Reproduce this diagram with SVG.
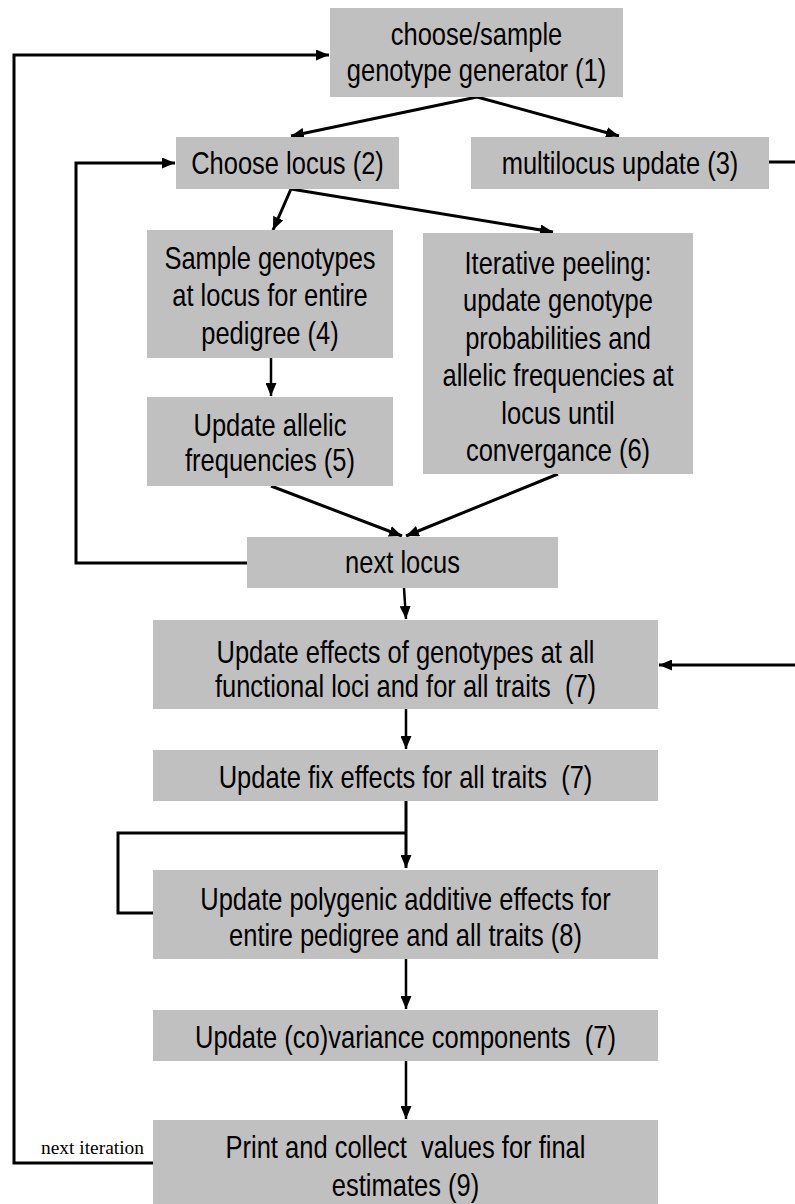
<svg xmlns="http://www.w3.org/2000/svg" width="795" height="1204" viewBox="0 0 795 1204">
<style>
.box{fill:#C0C0C0;}
.t{font-family:"Liberation Sans",Arial,sans-serif;font-size:25.5px;fill:#000;text-anchor:middle;}
.c{fill:none;stroke:#000;stroke-width:3;stroke-linejoin:miter;}
.v{fill:none;stroke:#000;stroke-width:2.5;}
.lbl{font-family:"Liberation Serif","Times New Roman",serif;font-size:18px;fill:#000;}
</style>
<defs>
<marker id="ah" markerUnits="userSpaceOnUse" markerWidth="14" markerHeight="11" refX="13" refY="5.5" orient="auto">
<path d="M0,0 L13,5.5 L0,11 z" fill="#000"/>
</marker>
</defs>
<rect width="795" height="1204" fill="#fff"/>

<g id="connectors">
<path class="c" d="M477,97 L291,136" marker-end="url(#ah)"/>
<path class="c" d="M477,97 L619,136" marker-end="url(#ah)"/>
<path class="c" d="M291,189 L273,230" marker-end="url(#ah)"/>
<path class="c" d="M291,189 L553,232" marker-end="url(#ah)"/>
<path class="v" d="M271,358 L271,396" marker-end="url(#ah)"/>
<path class="c" d="M271,486 L402,536" marker-end="url(#ah)"/>
<path class="c" d="M558,474 L406,536" marker-end="url(#ah)"/>
<path class="c" d="M247,563 L76,563 L76,163 L175,163" marker-end="url(#ah)"/>
<path class="v" d="M404,588 L406,619" marker-end="url(#ah)"/>
<path class="c" d="M769,162 L798,162 L798,665 L659,665" marker-end="url(#ah)"/>
<path class="v" d="M406,709 L406,749" marker-end="url(#ah)"/>
<path class="c" d="M406,801 L406,868" marker-end="url(#ah)"/>
<path class="c" d="M406,833 L118,833 L118,913 L153,913"/>
<path class="v" d="M406,959 L406,1009" marker-end="url(#ah)"/>
<path class="v" d="M406,1061 L406,1119" marker-end="url(#ah)"/>
<path class="c" d="M153,1163 L14,1163 L14,55 L329,55" marker-end="url(#ah)"/>
<text class="lbl" x="41" y="1154" textLength="103" lengthAdjust="spacingAndGlyphs">next iteration</text>
</g>

<g id="n1">
<rect class="box" x="330" y="8" width="293" height="89"/>
<text class="t" transform="translate(476.5,45) scale(1,1.22)">choose/sample</text>
<text class="t" transform="translate(476.5,81) scale(1,1.22)">genotype generator (1)</text>
</g>
<g id="n2">
<rect class="box" x="176" y="137" width="223" height="52"/>
<text class="t" transform="translate(287.5,174) scale(1,1.22)">Choose locus (2)</text>
</g>
<g id="n3">
<rect class="box" x="471" y="137" width="298" height="52"/>
<text class="t" transform="translate(620,174) scale(1,1.22)">multilocus update (3)</text>
</g>
<g id="n4">
<rect class="box" x="147" y="230" width="246" height="128"/>
<text class="t" transform="translate(270,269) scale(1,1.22)">Sample genotypes</text>
<text class="t" transform="translate(270,306) scale(1,1.22)">at locus for entire</text>
<text class="t" transform="translate(270,344) scale(1,1.22)">pedigree (4)</text>
</g>
<g id="n5">
<rect class="box" x="147" y="397" width="246" height="89"/>
<text class="t" transform="translate(270,436) scale(1,1.22)">Update allelic</text>
<text class="t" transform="translate(270,471) scale(1,1.22)">frequencies (5)</text>
</g>
<g id="n6">
<rect class="box" x="423" y="233" width="270" height="241"/>
<text class="t" transform="translate(558,274) scale(1,1.22)">Iterative peeling:</text>
<text class="t" transform="translate(558,311) scale(1,1.22)">update genotype</text>
<text class="t" transform="translate(558,349) scale(1,1.22)">probabilities and</text>
<text class="t" transform="translate(558,386) scale(1,1.22)">allelic frequencies at</text>
<text class="t" transform="translate(558,424) scale(1,1.22)">locus until</text>
<text class="t" transform="translate(558,461) scale(1,1.22)">convergance (6)</text>
</g>
<g id="n_next">
<rect class="box" x="247" y="537" width="311" height="51"/>
<text class="t" transform="translate(402.5,573) scale(1,1.22)">next locus</text>
</g>
<g id="n7">
<rect class="box" x="153" y="620" width="505" height="89"/>
<text class="t" transform="translate(405.5,663) scale(1,1.22)" xml:space="preserve">Update effects of genotypes at all</text>
<text class="t" transform="translate(405.5,697) scale(1,1.22)" xml:space="preserve">functional loci and for all traits  (7)</text>
</g>
<g id="n7b">
<rect class="box" x="153" y="750" width="505" height="51"/>
<text class="t" transform="translate(405.5,788) scale(1,1.22)" xml:space="preserve">Update fix effects for all traits  (7)</text>
</g>
<g id="n8">
<rect class="box" x="153" y="870" width="505" height="89"/>
<text class="t" transform="translate(405.5,910) scale(1,1.22)">Update polygenic additive effects for</text>
<text class="t" transform="translate(405.5,946) scale(1,1.22)">entire pedigree and all traits (8)</text>
</g>
<g id="n7c">
<rect class="box" x="153" y="1010" width="505" height="51"/>
<text class="t" transform="translate(405.5,1048) scale(1,1.22)" xml:space="preserve">Update (co)variance components  (7)</text>
</g>
<g id="n9">
<rect class="box" x="153" y="1120" width="505" height="84"/>
<text class="t" transform="translate(405.5,1158) scale(1,1.22)" xml:space="preserve">Print and collect  values for final</text>
<text class="t" transform="translate(405.5,1196) scale(1,1.22)">estimates (9)</text>
</g>
</svg>
